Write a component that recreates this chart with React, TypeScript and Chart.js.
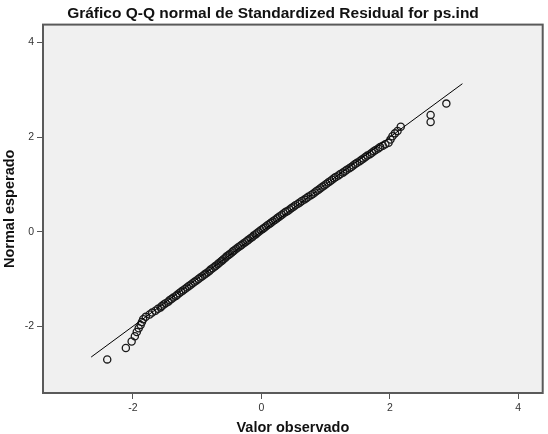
import React, { useEffect, useRef } from 'react';
import { Chart, registerables } from 'chart.js';

Chart.register(...registerables);

const chartTitle = 'Gráfico Q-Q normal de Standardized Residual for ps.ind';
const xTitle = 'Valor observado';
const yTitle = 'Normal esperado';

const xTicks = [-2, 0, 2, 4];
const yTicks = [-2, 0, 2, 4];

// Observed standardized residuals (x) and expected normal values (y)
const observed = [
  -2.40, -2.11, -2.02, -1.97, -1.94, -1.91, -1.88, -1.86, -1.84, -1.80, -1.74, -1.70, -1.65,
  -1.61, -1.57, -1.55, -1.52, -1.49, -1.45, -1.43, -1.40, -1.37, -1.33, -1.31, -1.28, -1.25,
  -1.22, -1.19, -1.16, -1.13, -1.10, -1.07, -1.04, -1.01, -0.98, -0.95, -0.92, -0.89, -0.87,
  -0.84, -0.81, -0.79, -0.76, -0.73, -0.71, -0.68, -0.66, -0.63, -0.61, -0.59, -0.56, -0.54,
  -0.51, -0.49, -0.46, -0.44, -0.42, -0.39, -0.36, -0.33, -0.31, -0.28, -0.25, -0.22, -0.20,
  -0.17, -0.14, -0.12, -0.09, -0.07, -0.04, -0.01, 0.02, 0.04, 0.07, 0.10, 0.13, 0.15, 0.18,
  0.21, 0.24, 0.26, 0.29, 0.32, 0.35, 0.38, 0.41, 0.44, 0.47, 0.50, 0.53, 0.57, 0.60, 0.63,
  0.67, 0.70, 0.73, 0.77, 0.80, 0.83, 0.86, 0.89, 0.92, 0.95, 0.98, 1.01, 1.04, 1.07, 1.10,
  1.13, 1.16, 1.20, 1.23, 1.27, 1.30, 1.33, 1.37, 1.40, 1.43, 1.46, 1.49, 1.53, 1.56, 1.59,
  1.62, 1.65, 1.69, 1.72, 1.75, 1.78, 1.82, 1.85, 1.89, 1.93, 1.98, 2.01, 2.04, 2.08, 2.12,
  2.17, 2.635, 2.635, 2.88,
];
const expected = [
  -2.70, -2.46, -2.32, -2.21, -2.12, -2.04, -1.97, -1.91, -1.85, -1.80, -1.75, -1.71, -1.67,
  -1.63, -1.60, -1.57, -1.54, -1.51, -1.48, -1.45, -1.42, -1.39, -1.36, -1.33, -1.30, -1.27,
  -1.24, -1.21, -1.18, -1.15, -1.12, -1.09, -1.06, -1.03, -1.00, -0.97, -0.94, -0.91, -0.89,
  -0.86, -0.83, -0.80, -0.77, -0.74, -0.72, -0.69, -0.66, -0.63, -0.61, -0.58, -0.55, -0.52,
  -0.49, -0.47, -0.44, -0.41, -0.39, -0.36, -0.33, -0.30, -0.28, -0.25, -0.22, -0.19, -0.17,
  -0.14, -0.11, -0.08, -0.06, -0.03, 0.00, 0.03, 0.06, 0.08, 0.11, 0.14, 0.17, 0.19, 0.22,
  0.25, 0.28, 0.30, 0.33, 0.36, 0.39, 0.42, 0.44, 0.47, 0.50, 0.53, 0.56, 0.59, 0.62, 0.65,
  0.68, 0.71, 0.74, 0.77, 0.80, 0.83, 0.86, 0.89, 0.92, 0.95, 0.98, 1.01, 1.04, 1.07, 1.10,
  1.13, 1.16, 1.19, 1.22, 1.25, 1.28, 1.31, 1.34, 1.37, 1.40, 1.43, 1.46, 1.49, 1.52, 1.55,
  1.58, 1.61, 1.64, 1.67, 1.70, 1.73, 1.76, 1.79, 1.82, 1.85, 1.88, 1.95, 2.02, 2.08, 2.13,
  2.22, 2.32, 2.47, 2.71,
];

// Reference line endpoints
const lineX = [-2.65, 3.13];
const lineY = [-2.65, 3.13];

const FONT = '"Liberation Sans", Arial, sans-serif';

export default function App() {
  const ref = useRef<HTMLCanvasElement>(null);

  useEffect(() => {
    if (!ref.current) return;
    const framePlugin = {
      id: 'frame',
      beforeDraw(chart: any) {
        const { ctx, chartArea: a } = chart;
        ctx.save();
        ctx.fillStyle = '#ffffff';
        ctx.fillRect(0, 0, chart.width, chart.height);
        ctx.fillStyle = '#f0f0f0';
        ctx.fillRect(a.left, a.top, a.right - a.left, a.bottom - a.top);
        ctx.restore();
      },
      afterDraw(chart: any) {
        const { ctx, chartArea: a } = chart;
        ctx.save();
        ctx.strokeStyle = '#5a5a5a';
        ctx.lineWidth = 2;
        ctx.strokeRect(a.left, a.top, a.right - a.left, a.bottom - a.top);
        ctx.restore();
      },
    };

    const chart = new Chart(ref.current, {
      type: 'scatter',
      data: {
        datasets: [
          {
            label: 'line',
            data: lineX.map((x, i) => ({ x, y: lineY[i] })),
            showLine: true,
            borderColor: '#000000',
            borderWidth: 1,
            pointRadius: 0,
            fill: false,
            order: 1,
          },
          {
            label: 'points',
            data: observed.map((x, i) => ({ x, y: expected[i] })),
            pointRadius: 3.6,
            pointBorderWidth: 1.3,
            borderColor: '#1a1a1a',
            backgroundColor: 'rgba(0,0,0,0)',
            pointBackgroundColor: 'rgba(0,0,0,0)',
            pointBorderColor: '#1a1a1a',
            order: 2,
          },
        ],
      },
      plugins: [framePlugin],
      options: {
        animation: false,
        responsive: false,
        devicePixelRatio: 1,
        layout: { padding: { left: 0, right: 2, top: 0, bottom: 0 } },
        plugins: {
          legend: { display: false },
          tooltip: { enabled: false },
          title: {
            display: true,
            text: chartTitle,
            color: '#111111',
            font: { family: FONT, size: 15.5, weight: 'bold', lineHeight: 1.2 },
            padding: { top: 4, bottom: 2 },
          },
        },
        scales: {
          x: {
            type: 'linear',
            min: -3.4,
            max: 4.38,
            afterBuildTicks: (s: any) => {
              s.ticks = xTicks.map((v) => ({ value: v }));
            },
            afterFit: (s: any) => {
              s.height = 41;
            },
            grid: {
              drawOnChartArea: false,
              drawTicks: true,
              tickLength: 6,
              color: '#555555',
            },
            border: { display: false },
            ticks: {
              padding: 3,
              color: '#333333',
              font: { family: FONT, size: 10.5 },
              maxRotation: 0,
            },
            title: {
              display: true,
              text: xTitle,
              color: '#111111',
              font: { family: FONT, size: 14.5, weight: 'bold', lineHeight: 1 },
              padding: { top: 0, bottom: -1 },
            },
          },
          y: {
            type: 'linear',
            min: -3.41,
            max: 4.38,
            afterBuildTicks: (s: any) => {
              s.ticks = yTicks.map((v) => ({ value: v }));
            },
            afterFit: (s: any) => {
              s.width = 43;
            },
            grid: {
              drawOnChartArea: false,
              drawTicks: true,
              tickLength: 6,
              color: '#555555',
            },
            border: { display: false },
            ticks: {
              padding: 3,
              color: '#333333',
              font: { family: FONT, size: 10.5 },
            },
            title: {
              display: true,
              text: yTitle,
              color: '#111111',
              font: { family: FONT, size: 14.5, weight: 'bold', lineHeight: 1 },
              padding: { top: 3, bottom: 0 },
            },
          },
        },
      },
    } as any);

    return () => chart.destroy();
  }, []);

  return (
    <div style={{ position: 'absolute', left: 0, top: 0, width: 548, height: 434, background: '#ffffff' }}>
      <canvas ref={ref} width={548} height={434} style={{ display: 'block', width: 548, height: 434 }} />
    </div>
  );
}
